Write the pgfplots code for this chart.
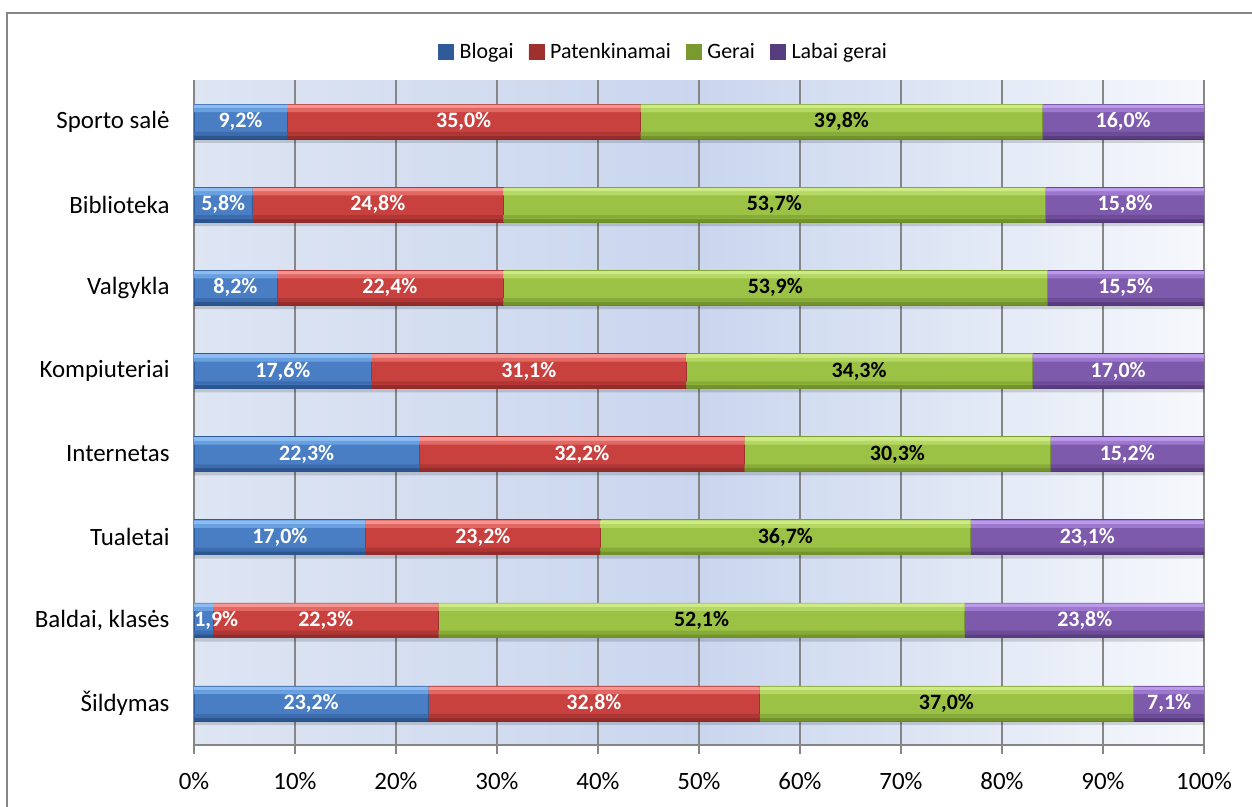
\documentclass[border=0pt]{standalone}
\usepackage{fontspec}
\setmainfont{Carlito}
\usepackage{pgfplots}
\pgfplotsset{compat=1.18}
\usepackage{pgfplotstable}

\definecolor{blueM}{HTML}{4A7EC4}
\definecolor{blue1}{HTML}{8CBCF2}
\definecolor{blue2}{HTML}{69A0E0}
\definecolor{blue3}{HTML}{3C6CAE}
\definecolor{blue4}{HTML}{2C5690}
\definecolor{blueB}{HTML}{2F5C98}
\definecolor{redM}{HTML}{C8413F}
\definecolor{red1}{HTML}{F59490}
\definecolor{red2}{HTML}{E26864}
\definecolor{red3}{HTML}{AE3735}
\definecolor{red4}{HTML}{932C2A}
\definecolor{redB}{HTML}{9E302E}
\definecolor{greenM}{HTML}{9CC245}
\definecolor{green1}{HTML}{CDEA86}
\definecolor{green2}{HTML}{B5D864}
\definecolor{green3}{HTML}{87AB3A}
\definecolor{green4}{HTML}{73932B}
\definecolor{greenB}{HTML}{789A2E}
\definecolor{purpM}{HTML}{7E5AAC}
\definecolor{purp1}{HTML}{BB9AEA}
\definecolor{purp2}{HTML}{9D78CE}
\definecolor{purp3}{HTML}{6C4C96}
\definecolor{purp4}{HTML}{5A3D80}
\definecolor{purpB}{HTML}{573C80}
\definecolor{bgL}{HTML}{DEE5F3}
\definecolor{bgM}{HTML}{C9D6EE}
\definecolor{bgR}{HTML}{F6F8FC}
\definecolor{gridc}{HTML}{868686}

\pgfplotstableread{
y a b c d
7 9.2 35.0 39.8 16.0
6 5.8 24.8 53.7 15.8
5 8.2 22.4 53.9 15.5
4 17.6 31.1 34.3 17.0
3 22.3 32.2 30.3 15.2
2 17.0 23.2 36.7 23.1
1 1.9 22.3 52.1 23.8
0 23.2 32.8 37.0 7.1
}\data

\pgfplotstableread{
y xa va xb vb xc vc xd vd
7 4.6 9.2 26.7 35.0 64.1 39.8 92.0 16.0
6 2.9 5.8 18.2 24.8 57.45 53.7 92.2 15.8
5 4.1 8.2 19.4 22.4 57.55 53.9 92.25 15.5
4 8.8 17.6 33.15 31.1 65.85 34.3 91.5 17.0
3 11.15 22.3 38.4 32.2 69.65 30.3 92.4 15.2
2 8.5 17.0 28.6 23.2 58.55 36.7 88.45 23.1
1 2.2 1.9 13.05 22.3 50.25 52.1 88.2 23.8
0 11.6 23.2 39.6 32.8 74.5 37.0 96.55 7.1
}\labels

\pgfplotsset{
  common/.style={
    scale only axis, width=1010bp, height=665bp,
    at={(194bp,-745bp)}, anchor=south west,
    xmin=0, xmax=100, ymin=-0.5, ymax=7.5,
  },
  barlab/.style={draw=none, point meta=explicit, nodes near coords,
    nodes near coords={\pgfmathprintnumber[fixed,fixed zerofill,precision=1,use comma,assume math mode=true]{\pgfplotspointmeta}\%},
    every node near coord/.append style={anchor=center, font=\fontsize{22}{26}\selectfont\bfseries, text=#1}},
  limg/.style={legend image code/.code={%
    \shade[top color=#11, bottom color=#1B, middle color=#1M] (0bp,-7.5bp) rectangle (15bp,7.5bp);
    \draw[#1B, line width=0.6bp] (0bp,-7.5bp) rectangle (15bp,7.5bp);}},
}

\newcommand\strip[3]{%
\begin{axis}[common, hide axis, xbar stacked, bar width=#2, bar shift=#1]
\addplot[fill=blue#3, draw=none] table[x=a,y=y]{\data};
\addplot[fill=red#3, draw=none] table[x=b,y=y]{\data};
\addplot[fill=green#3, draw=none] table[x=c,y=y]{\data};
\addplot[fill=purp#3, draw=none] table[x=d,y=y]{\data};
\end{axis}}

\begin{document}
\begin{tikzpicture}
\useasboundingbox (0,0) rectangle (1252bp,-807bp);
\draw[gridc, line width=2bp] (7bp,-807bp) -- (7bp,-13bp) -- (1252bp,-13bp);
\begin{axis}[common,
  xbar stacked, bar width=0.42,
  axis x line*=bottom, axis y line*=left,
  axis line style={gridc, line width=1.4bp},
  axis background/.style={left color=bgL, right color=bgR, middle color=bgM},
  xmajorgrids, major grid style={gridc, line width=1.4bp},
  xtick={0,10,...,100},
  xticklabels={0\%,10\%,20\%,30\%,40\%,50\%,60\%,70\%,80\%,90\%,100\%},
  ytick={0,...,7},
  yticklabels={Šildymas,{Baldai, klasės},Tualetai,Internetas,Kompiuteriai,Valgykla,Biblioteka,Sporto salė},
  minor ytick={-0.5,0.5,...,7.5},
  tick align=outside, major tick length=9bp, minor tick length=9bp,
  tick style={gridc, line width=1.4bp},
  ytick style={draw=none},
  minor tick style={gridc, line width=1.4bp},
  ticklabel style={font=\fontsize{25}{29}\selectfont},
  xticklabel style={yshift=-15bp},
  yticklabel style={xshift=-12bp},
  legend style={at={(0,1)}, anchor=west, xshift=244bp, yshift=28bp, draw=none, fill=none,
    inner sep=0pt, outer sep=0pt,
    nodes={inner sep=0pt, outer sep=0pt},
    font=\fontsize{22}{26}\selectfont, legend columns=4,
    /tikz/every odd column/.append style={column sep=6bp},
    /tikz/every even column/.append style={column sep=15bp}},
  legend cell align=left,
]
\addplot[fill=blueM, draw=blueB, line width=0.6bp, limg=blue] table[x=a,y=y]{\data};
\addplot[fill=redM, draw=redB, line width=0.6bp, limg=red] table[x=b,y=y]{\data};
\addplot[fill=greenM, draw=greenB, line width=0.6bp, limg=green] table[x=c,y=y]{\data};
\addplot[fill=purpM, draw=purpB, line width=0.6bp, limg=purp] table[x=d,y=y]{\data};
\legend{Blogai,Patenkinamai,Gerai,Labai gerai}
\end{axis}
% bevel-like strips over the bars
\strip{0.18}{0.045}{1}
\strip{0.135}{0.045}{2}
\strip{-0.145}{0.04}{3}
\strip{-0.19}{0.04}{4}
% soft shadow below the bars
\begin{axis}[common, hide axis, xbar stacked, bar width=0.045, bar shift=-0.235]
\addplot[fill=black, fill opacity=0.14, draw=none] table[x=a,y=y]{\data};
\addplot[fill=black, fill opacity=0.14, draw=none] table[x=b,y=y]{\data};
\addplot[fill=black, fill opacity=0.14, draw=none] table[x=c,y=y]{\data};
\addplot[fill=black, fill opacity=0.14, draw=none] table[x=d,y=y]{\data};
\end{axis}
\begin{axis}[common, hide axis, clip=false]
\addplot[barlab=white] table[x=xa,y=y,meta=va]{\labels};
\addplot[barlab=white] table[x=xb,y=y,meta=vb]{\labels};
\addplot[barlab=black] table[x=xc,y=y,meta=vc]{\labels};
\addplot[barlab=white] table[x=xd,y=y,meta=vd]{\labels};
\end{axis}
\end{tikzpicture}
\end{document}
